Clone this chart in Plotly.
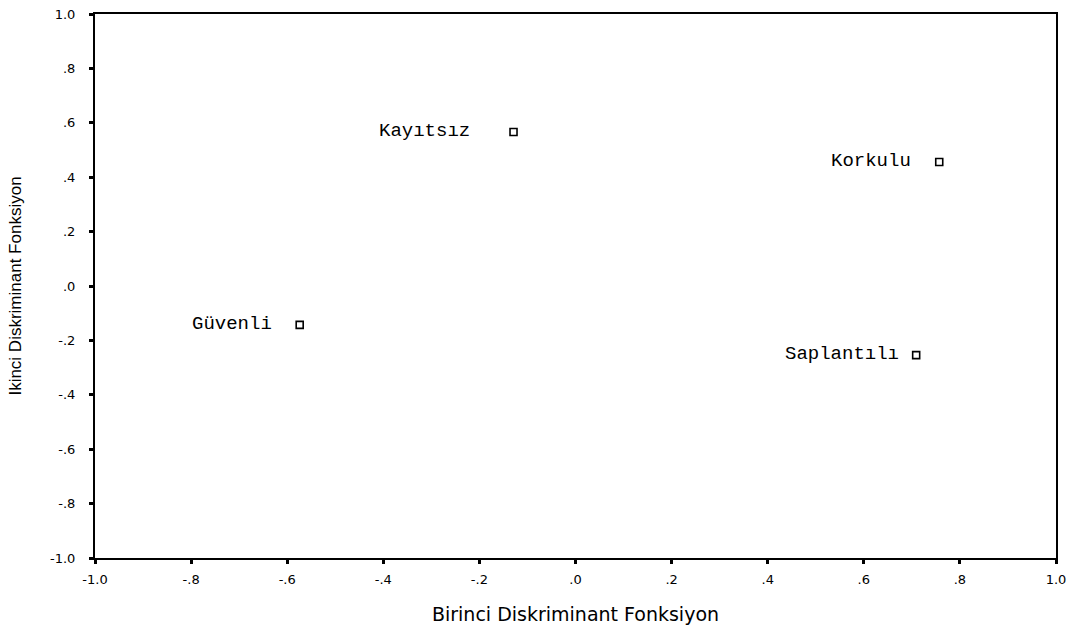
import plotly.graph_objects as go

groups = ["Kayıtsız", "Korkulu", "Güvenli", "Saplantılı"]
func1 = [-0.129, 0.757, -0.574, 0.709]
func2 = [0.566, 0.456, -0.143, -0.254]
label_gap = [44, 28, 28, 17]

tick_vals = [-1.0, -0.8, -0.6, -0.4, -0.2, 0.0, 0.2, 0.4, 0.6, 0.8, 1.0]
tick_text = ["-1.0", "-.8", "-.6", "-.4", "-.2", ".0", ".2", ".4", ".6", ".8", "1.0"]

fig = go.Figure()
fig.add_trace(go.Scatter(
    x=func1, y=func2, mode="markers",
    marker=dict(symbol="square-open", size=7, color="black", line=dict(width=1.6)),
    showlegend=False, hoverinfo="text", text=groups,
))

for g, xv, yv, gap in zip(groups, func1, func2, label_gap):
    fig.add_annotation(
        x=xv, y=yv, text=g, showarrow=False, xanchor="right", yanchor="middle",
        xshift=-gap + 2, yshift=1,
        font=dict(family="Liberation Mono, DejaVu Sans Mono, monospace", size=19, color="black"),
    )

axis_common = dict(
    range=[-1.0, 1.0], tickvals=tick_vals, ticktext=tick_text, automargin=False,
    showgrid=False, zeroline=False, showline=True, linecolor="black", linewidth=2,
    mirror=True, ticks="outside", ticklen=4, tickwidth=3, tickcolor="black",
    ticklabeloverflow="allow",
    tickfont=dict(family="DejaVu Sans, sans-serif", size=13, color="black"),
)

fig.update_xaxes(
    **axis_common, ticklabelstandoff=4,
    title=dict(text="Birinci Diskriminant Fonksiyon", standoff=22,
               font=dict(family="DejaVu Sans, sans-serif", size=19, color="black")),
)
fig.update_yaxes(
    **axis_common, ticklabelstandoff=11,
    title=dict(text="Ikinci Diskriminant Fonksiyon", standoff=24,
               font=dict(family="Liberation Sans, Arial, sans-serif", size=17, color="black")),
)

fig.update_layout(
    width=1075, height=634,
    margin=dict(l=95, r=19, t=14, b=76),
    paper_bgcolor="white", plot_bgcolor="white",
)

# remove the default 8px page margin so the figure fills the window exactly
fig.write_html("out.html", config={"displayModeBar": False},
               post_script="document.body.style.margin='0';")
